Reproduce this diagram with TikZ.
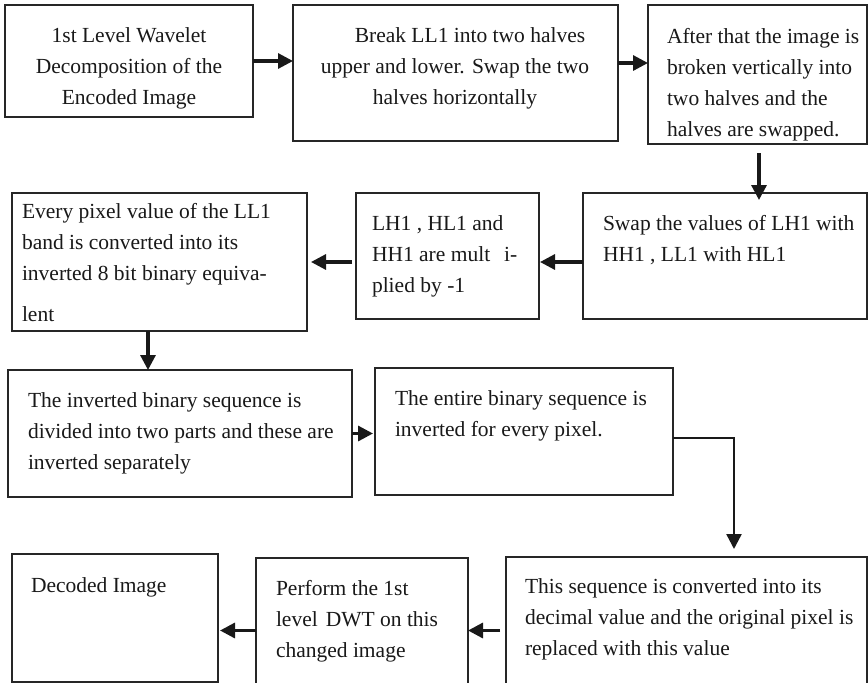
\documentclass[tikz,border=0pt]{standalone}
\usepackage{fontspec}
\setmainfont{Liberation Serif}
\usetikzlibrary{arrows.meta}
\newcommand{\lleft}[1]{\vtop{\baselineskip=31pt\lineskiplimit=-100pt\halign{##\hfil\cr#1\crcr}}}
\newcommand{\lcenter}[1]{\vtop{\baselineskip=31pt\lineskiplimit=-100pt\halign{\hfil##\hfil\cr#1\crcr}}}
\tikzset{
  boxst/.style={draw=black!85, line width=1.1pt, inner sep=0pt, outer sep=0pt, anchor=north west},
  txt/.style={inner sep=0pt, outer sep=0pt, font=\fontsize{21.5}{31}\selectfont, text=black!90},
  arr/.style={draw=black!90, line width=3.2pt, -{Triangle[length=15pt,width=15pt]}}
}
\begin{document}
\begin{tikzpicture}[x=1pt,y=-1pt]
\useasboundingbox (0,0) rectangle (868,683);
\fill[white] (0,0) rectangle (868,683);
% boxes
\node[boxst, minimum width=248pt, minimum height=112pt] (b1) at (5,5) {};
\node[boxst, minimum width=325pt, minimum height=136pt] (b2) at (293,5) {};
\node[boxst, minimum width=219pt, minimum height=139pt] (b3) at (648,5) {};
\node[boxst, minimum width=284pt, minimum height=126pt] (b4) at (583,193) {};
\node[boxst, minimum width=183pt, minimum height=126pt] (b5) at (356,193) {};
\node[boxst, minimum width=295pt, minimum height=138pt] (b6) at (12,193) {};
\node[boxst, minimum width=344pt, minimum height=127pt] (b7) at (8,370) {};
\node[boxst, minimum width=298pt, minimum height=127pt] (b8) at (375,368) {};
\node[boxst, minimum width=361pt, minimum height=135pt] (b9) at (506,557) {};
\node[boxst, minimum width=212pt, minimum height=135pt] (b10) at (256,558) {};
\node[boxst, minimum width=206pt, minimum height=128pt] (b11) at (12,554) {};
% texts
\node[txt, anchor=base] (t1) at (129,42) {\lcenter{1st Level Wavelet\cr Decomposition of the\cr Encoded Image}};
\node[txt, anchor=base] (t2) at (455,42) {\lcenter{\hspace*{30pt}Break LL1 into two halves\cr upper and lower. Swap the two\cr halves horizontally}};
\node[txt, anchor=base west] (t3) at (667,43) {\lleft{After that the image is\cr broken vertically into\cr two halves and the\cr halves are swapped.}};
\node[txt, anchor=base west] (t4) at (603,230) {\lleft{Swap the values of LH1 with\cr HH1 , LL1 with HL1}};
\node[txt, anchor=base west] (t5) at (372,230) {\lleft{LH1 , HL1 and\cr HH1 are mult\hspace{14pt}i-\cr plied by -1}};
\node[txt, anchor=base west] (t6) at (22,218) {\lleft{Every pixel value of the LL1\cr band is converted into its\cr inverted 8 bit binary equiva-\cr\noalign{\vskip 10pt} lent}};
\node[txt, anchor=base west] (t7) at (28,407) {\lleft{The inverted binary sequence is\cr divided into two parts and these are\cr inverted separately}};
\node[txt, anchor=base west] (t8) at (395,405) {\lleft{The entire binary sequence is\cr inverted for every pixel.}};
\node[txt, anchor=base west] (t9) at (525,593) {\lleft{This sequence is converted into its\cr decimal value and the original pixel is\cr replaced with this value}};
\node[txt, anchor=base west] (t10) at (276,595) {\lleft{Perform the 1st\cr level\hspace{8pt}DWT on this\cr changed image}};
\node[txt, anchor=base west] (t11) at (31,592) {Decoded Image};
% connectors
\coordinate (k) at (734,549);
\draw[arr] (b1.east) -- (b1.east -| b2.west);
\draw[arr] ([yshift=10pt]b2.east) -- ([yshift=10pt]b2.east -| b3.west);
\draw[arr] ([xshift=1.5pt,yshift=-9pt]b3.south) -- ([xshift=1.5pt,yshift=-7pt]b3.south |- b4.north);
\draw[arr] ([yshift=-6pt]b4.west) -- ([yshift=-6pt,xshift=1pt]b4.west -| b5.east);
\draw[arr] ([yshift=-6pt,xshift=-4pt]b5.west) -- ([yshift=-6pt,xshift=4pt]b5.west -| b6.east);
\draw[arr] ([xshift=-11.5pt]b6.south) -- ([xshift=-11.5pt]b6.south |- b7.north);
\draw[arr] (b7.east) -- ([xshift=-2pt]b7.east -| b8.west);
\draw[arr, line width=2.4pt] ([yshift=-6.5pt]b8.east) -| (k);
\draw[arr] ([xshift=-6pt,yshift=-5pt]b9.west |- b10.east) -- ([yshift=-5pt]b10.east);
\draw[arr] ([yshift=-5pt]b10.west) -- ([yshift=-5pt,xshift=2pt]b10.west -| b11.east);
\end{tikzpicture}
\end{document}
